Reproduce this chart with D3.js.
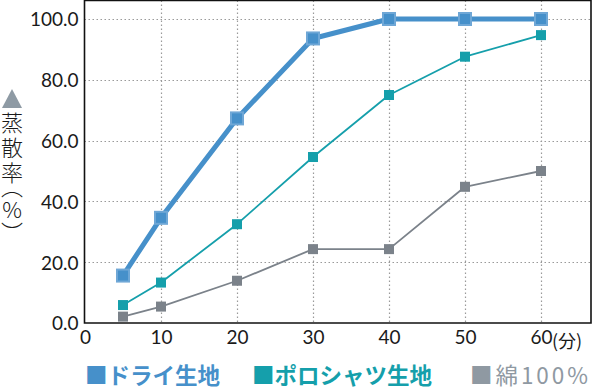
<!DOCTYPE html>
<html>
<head>
<meta charset="utf-8">
<script src="https://cdn.jsdelivr.net/npm/d3@7"></script>
<style>
  html, body { margin: 0; padding: 0; background: #fff; }
  svg { display: block; }
  .tick text { font-family: Lato, "Noto Sans", sans-serif; font-size: 19px; fill: #1a1a1a; }
  .grid line { stroke: #9a9a9a; stroke-width: 1.2; stroke-dasharray: 1.5 2.5; }
  .ylabel { writing-mode: vertical-rl; font-family: "Noto Sans CJK JP", sans-serif; font-size: 22px; font-weight: 300; fill: #1a1a1a; }
  .ylabel .up { text-orientation: upright; }
  .ylabel .half { font-feature-settings: "vhal" 1; }
</style>
</head>
<body>
<svg id="chart" width="592" height="388"></svg>
<script>
const minutes = [5, 10, 20, 30, 40, 50, 60];
const dryValues = [15.6, 34.6, 67.3, 93.6, 100, 100, 100];
const poloValues = [5.9, 13.3, 32.5, 54.6, 75.0, 87.6, 94.7];
const cottonValues = [2.1, 5.4, 13.9, 24.3, 24.3, 44.8, 50.0];
const xTicks = [0, 10, 20, 30, 40, 50, 60];
const yTicks = [0, 20, 40, 60, 80, 100];
const legendLabels = ['■ドライ生地', '■ポロシャツ生地', '■綿100%'];
const yLabelParts = ['蒸散率', '（', '%', '）'];

const svg = d3.select('#chart');

const frame = { left: 84.5, top: 0.5, right: 591, bottom: 323 };

// x: 0..60 minutes, frame continues a bit past 60
const x = d3.scaleLinear().domain([0, 60]).range([85, 541]);
const y = d3.scaleLinear().domain([0, 100]).range([323, 19]);

// dotted grid
svg.append('g')
  .attr('class', 'grid')
  .selectAll('line.h')
  .data(yTicks.filter((d) => d > 0))
  .join('line')
  .attr('x1', frame.left)
  .attr('x2', frame.right)
  .attr('y1', (d) => Math.round(y(d)) + 0.5)
  .attr('y2', (d) => Math.round(y(d)) + 0.5);

svg.append('g')
  .attr('class', 'grid')
  .selectAll('line.v')
  .data(xTicks.filter((d) => d > 0))
  .join('line')
  .attr('x1', (d) => Math.round(x(d)) + 0.5)
  .attr('x2', (d) => Math.round(x(d)) + 0.5)
  .attr('y1', frame.top)
  .attr('y2', frame.bottom);

// frame
svg.append('path')
  .attr('d', `M${frame.left},${frame.bottom}V${frame.top}H${frame.right}V${frame.bottom}Z`)
  .attr('fill', 'none')
  .attr('stroke', '#111')
  .attr('stroke-width', 1.6);

// axes
const xAxis = svg.append('g')
  .attr('transform', `translate(0, ${frame.bottom})`)
  .call(d3.axisBottom(x).tickValues(xTicks).tickSize(0).tickPadding(8).tickFormat(d3.format('d')));
xAxis.select('.domain').remove();

const yAxis = svg.append('g')
  .attr('transform', `translate(${frame.left}, 0)`)
  .call(d3.axisLeft(y).tickValues(yTicks).tickSize(0).tickPadding(6).tickFormat(d3.format('.1f')));
yAxis.select('.domain').remove();
yAxis.selectAll('.tick text').attr('dy', '0.36em');

svg.append('text')
  .attr('x', 552)
  .attr('y', 348)
  .attr('font-family', '"Noto Sans CJK JP", sans-serif')
  .attr('font-size', 18)
  .attr('fill', '#1a1a1a')
  .text('(分)');

// series
const series = [
  { name: 'cotton', values: cottonValues, color: '#7b828a', width: 1.8, size: 10, edge: '#7b828a' },
  { name: 'polo', values: poloValues, color: '#159fab', width: 1.8, size: 10, edge: '#159fab' },
  { name: 'dry', values: dryValues, color: '#4690ca', width: 5, size: 12, edge: '#6fa7d6' },
];

const line = d3.line()
  .x((d) => x(d.t))
  .y((d) => y(d.v));

series.forEach((s) => {
  const points = minutes.map((t, i) => ({ t, v: s.values[i] }));
  svg.append('path')
    .datum(points)
    .attr('d', line)
    .attr('fill', 'none')
    .attr('stroke', s.color)
    .attr('stroke-width', s.width)
    .attr('stroke-linejoin', 'round');

  svg.append('g')
    .selectAll('rect')
    .data(points)
    .join('rect')
    .attr('x', (d) => x(d.t) - s.size / 2)
    .attr('y', (d) => y(d.v) - s.size / 2)
    .attr('width', s.size)
    .attr('height', s.size)
    .attr('fill', s.color)
    .attr('stroke', s.edge)
    .attr('stroke-width', s.name === 'dry' ? 2 : 0);
});

// y axis title: triangle + vertical text
svg.append('path')
  .attr('d', 'M2,108L22,108L12,89Z')
  .attr('fill', '#8e9aa4');

const yLabel = svg.append('text')
  .attr('class', 'ylabel')
  .attr('x', 12)
  .attr('y', 112);
yLabel.selectAll('tspan')
  .data(yLabelParts)
  .join('tspan')
  .attr('class', (d) => (d === '%' ? 'up' : d.length === 1 ? 'half' : null))
  .attr('letter-spacing', (d) => (d.length > 1 ? 3 : 1))
  .text((d) => d);

// legend
const legendX = [85, 252, 470];
const legendColors = ['#4690ca', '#159fab', '#8f99a2'];
const legendWeights = [700, 700, 400];
svg.append('g')
  .selectAll('text')
  .data(legendLabels)
  .join('text')
  .attr('x', (d, i) => legendX[i])
  .attr('y', 384)
  .attr('font-family', '"Noto Sans CJK JP", sans-serif')
  .attr('font-size', 22.5)
  .attr('font-weight', (d, i) => legendWeights[i])
  .attr('fill', (d, i) => legendColors[i])
  .attr('textLength', (d, i) => (i === 2 ? 118 : null))
  .attr('lengthAdjust', 'spacing')
  .text((d) => d);
</script>
</body>
</html>
